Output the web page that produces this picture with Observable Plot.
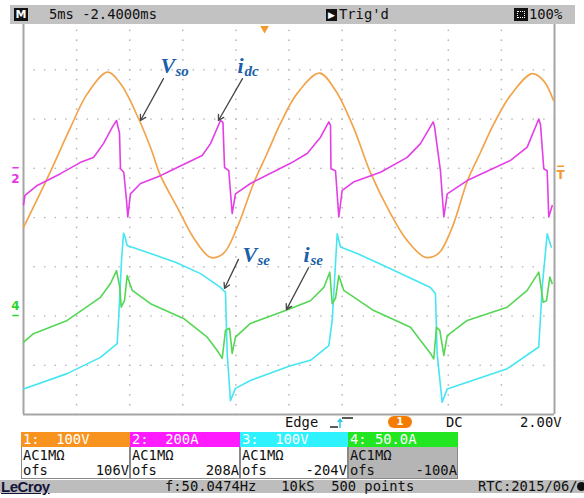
<!DOCTYPE html>
<html><head><meta charset="utf-8">
<script src="https://cdn.jsdelivr.net/npm/d3@7"></script>
<script src="https://cdn.jsdelivr.net/npm/@observablehq/plot@0.6"></script>
<style>
html,body{margin:0;padding:0;background:#fff;}
#wrap{position:relative;width:584px;height:498px;overflow:hidden;background:#fff;}
#chart{position:absolute;left:0;top:0;}
.abs{position:absolute;white-space:pre;}
.mono{font-family:"DejaVu Sans Mono",monospace;font-size:13.8px;color:#111;}
</style></head><body>
<div id="wrap"><div id="chart"></div><div id="ui"></div></div>
<script>
// ---- data: time in ms (5 ms/div), value in screen divisions ----
const timeDomain = [0, 50];
const divDomain = [-4, 4];
const vso = [[0,-0.20],[2.23,0.79],[4.43,1.83],[6.00,2.51],[7.91,2.95],[9.13,2.72],[10.83,2.01],[11.96,1.42],[12.90,0.85],[14.47,0.21],[16.01,-0.41],[17.61,-0.81],[18.83,-0.73],[20.12,-0.20],[21.66,0.69],[22.98,1.32],[24.20,1.91],[25.77,2.52],[27.87,2.93],[29.38,2.58],[31.07,1.83],[32.67,0.91],[34.56,0.08],[36.13,-0.47],[37.85,-0.81],[39.08,-0.73],[40.37,-0.20],[41.81,0.75],[43.03,1.32],[44.26,1.89],[45.86,2.48],[47.90,2.92],[48.96,2.78],[49.90,2.38]];
const idc = [[0,0.26],[0.14,0.45],[1.29,0.65],[3.48,0.89],[5.37,1.12],[6.59,1.22],[7.53,1.50],[8.35,1.83],[8.76,1.97],[9.04,1.71],[9.13,0.99],[9.44,0.92],[9.70,0.35],[9.82,0.01],[10.07,0.48],[11.02,0.69],[12.90,0.85],[13.84,0.95],[16.83,1.26],[17.61,1.50],[18.55,1.97],[18.78,1.93],[18.93,1.02],[19.33,0.95],[19.65,0.08],[19.96,0.48],[21.37,0.69],[25.14,1.10],[26.71,1.30],[27.97,1.63],[28.75,1.94],[28.91,1.87],[28.95,0.99],[29.38,0.95],[29.69,0.01],[30.01,0.55],[31.07,0.72],[33.62,0.92],[36.13,1.22],[37.38,1.50],[38.58,1.94],[38.70,1.85],[39.26,0.95],[39.58,0.01],[39.90,0.48],[41.78,0.75],[45.86,1.16],[47.43,1.43],[48.52,2.00],[48.68,1.89],[48.99,0.99],[49.31,0.95],[49.46,0.01],[49.78,0.24]];
const vse = [[0,-3.48],[4.11,-3.17],[7.25,-2.84],[8.82,-2.56],[8.95,-2.09],[9.23,-0.87],[9.42,-0.32],[9.56,-0.39],[9.76,-0.57],[11.96,-0.73],[14.31,-0.91],[16.67,-1.14],[18.55,-1.42],[19.02,-1.52],[19.18,-2.76],[19.49,-3.72],[19.96,-3.47],[21.37,-3.31],[25.14,-3.01],[27.02,-2.90],[28.75,-2.60],[29.07,-2.09],[29.54,-0.33],[29.85,-0.60],[31.42,-0.73],[34.56,-1.04],[38.32,-1.42],[38.79,-1.55],[38.95,-2.76],[39.42,-3.75],[39.90,-3.48],[41.43,-3.37],[45.55,-3.07],[48.52,-2.63],[48.84,-1.42],[49.31,-0.33],[49.69,-0.60]];
const ise = [[0,-2.53],[0.94,-2.36],[4.11,-2.09],[5.99,-1.81],[7.25,-1.62],[8.19,-1.34],[8.76,-1.08],[9.07,-1.42],[9.20,-1.82],[9.51,-1.69],[9.76,-1.18],[10.24,-1.48],[11.96,-1.75],[15.07,-2.05],[17.30,-2.43],[18.24,-2.70],[18.71,-2.86],[19.02,-2.29],[19.40,-2.25],[19.65,-2.76],[19.96,-2.43],[21.37,-2.15],[24.67,-1.89],[27.02,-1.69],[28.28,-1.42],[28.84,-1.11],[29.07,-1.75],[29.38,-1.64],[29.69,-1.18],[30.16,-1.48],[32.98,-1.89],[36.44,-2.23],[38.32,-2.76],[38.63,-2.87],[38.89,-2.23],[39.20,-2.29],[39.58,-2.80],[39.90,-2.40],[41.78,-2.09],[45.55,-1.82],[47.43,-1.48],[48.52,-1.11],[48.93,-1.72],[49.25,-1.69],[49.56,-1.21],[49.78,-1.34]];
const labels = [{t:12.90,v:2.94,main:"V",sub:"so"},{t:20.15,v:2.94,main:"i",sub:"dc"},{t:20.62,v:-0.91,main:"V",sub:"se"},{t:26.36,v:-0.91,main:"i",sub:"se"}];
const arrows = [{t1:13.18,v1:2.82,t2:11.02,v2:1.97},{t1:20.62,v1:2.82,t2:18.36,v2:1.97},{t1:20.24,v1:-0.85,t2:18.93,v2:-1.44},{t1:26.84,v1:-1.02,t2:24.76,v2:-1.87}];
const markersLeft = [{label:"2",v:0.77,bar:1.01},{label:"4",v:-1.79,bar:-1.99}];
const markersRight = [{label:"T",v:0.85,bar:1.04}];
const trigger = [{t:22.7,v:4}];
const channels = [
  {id:"1",scale:"100V",coupling:"AC1M\u03A9",ofs:"106V"},
  {id:"2",scale:"200A",coupling:"AC1M\u03A9",ofs:"208A"},
  {id:"3",scale:"100V",coupling:"AC1M\u03A9",ofs:"-204V"},
  {id:"4",scale:"50.0A",coupling:"AC1M\u03A9",ofs:"-100A"}];
const topTexts = ["5ms -2.4000ms","Trig'd","100%"];
const trigTexts = ["Edge","1","DC","2.00V"];
const statusTexts = ["LeCroy","f:50.0474Hz   10kS  500 points","RTC:2015/06/"];

// ---- styles ----
const traceColor = {"1":"#f2a44c","2":"#e43ee6","3":"#45e6f2","4":"#55d655"};
const headColor = {"1":"#f7931e","2":"#ff1aff","3":"#2ef2ff","4":"#22e622"};
const markColor = {"2":"#e535e5","4":"#2ed42e","T":"#f39a2c"};

const toRows = a => a.map(([t,v]) => ({t,v}));
const gridPts = [];
for (let t = 5; t < 50; t += 5) for (let j = 0; j <= 40; j++) gridPts.push({t, v: -4 + j*0.2});
for (let v = -3; v <= 3; v++) for (let j = 0; j <= 50; j++) gridPts.push({t: j, v});

const lab = {fontFamily:"Liberation Serif", fontStyle:"italic", fontWeight:"bold", fill:"#1b5fa9", textAnchor:"start", lineAnchor:"bottom"};

const chart = Plot.plot({
  width:584, height:420, marginLeft:23, marginRight:30, marginTop:20, marginBottom:6,
  x:{domain:timeDomain, axis:null}, y:{domain:divDomain, axis:null},
  style:{background:"transparent", overflow:"visible"},
  marks:[
    Plot.dot(gridPts, {x:"t", y:"v", r:0.85, fill:"#bab3bb", stroke:null}),
    Plot.ruleX(timeDomain, {stroke:"#a5a5a5", strokeWidth:2}),
    Plot.ruleY([divDomain[0]], {stroke:"#a5a5a5", strokeWidth:2}),
    Plot.line(toRows(vso), {x:"t", y:"v", stroke:traceColor["1"], strokeWidth:1.7, curve:"catmull-rom"}),
    Plot.line(toRows(idc), {x:"t", y:"v", stroke:traceColor["2"], strokeWidth:1.6}),
    Plot.line(toRows(vse), {x:"t", y:"v", stroke:traceColor["3"], strokeWidth:1.6}),
    Plot.line(toRows(ise), {x:"t", y:"v", stroke:traceColor["4"], strokeWidth:1.6}),
    Plot.arrow(arrows, {x1:"t1", y1:"v1", x2:"t2", y2:"v2", stroke:"#454545", strokeWidth:1.3, headLength:7}),
    Plot.text(labels, {...lab, x:"t", y:"v", text:"main", fontSize:22}),
    Plot.text(labels.filter(d=>d.main==="V"), {...lab, x:"t", y:"v", text:"sub", fontSize:15, dx:15, dy:3}),
    Plot.text(labels.filter(d=>d.main==="i"), {...lab, x:"t", y:"v", text:"sub", fontSize:15, dx:7, dy:3}),
    Plot.text(markersLeft, {x:()=>timeDomain[0], y:"v", text:"label", dx:-8, fontSize:12, fontWeight:"bold", fontFamily:"DejaVu Sans", fill:d=>markColor[d.label]}),
    Plot.link(markersLeft, {x1:()=>-1.05, x2:()=>-0.45, y1:"bar", y2:"bar", stroke:d=>markColor[d.label], strokeWidth:1.5}),
    Plot.text(markersRight, {x:()=>timeDomain[1], y:"v", text:"label", dx:6, fontSize:12, fontWeight:"bold", fontFamily:"DejaVu Sans", fill:d=>markColor[d.label]}),
    Plot.link(markersRight, {x1:()=>50.25, x2:()=>50.9, y1:"bar", y2:"bar", stroke:d=>markColor[d.label], strokeWidth:1.5}),
    Plot.dot(trigger, {x:"t", y:"v", symbol:"triangle", rotate:180, r:3.2, fill:"#f39a2c", stroke:null, dy:8})
  ]
});
document.getElementById("chart").appendChild(chart);

// ---- oscilloscope chrome (HTML) ----
const ui = document.getElementById("ui");
function el(css, text, cls) {
  const d = document.createElement("div");
  d.className = "abs " + (cls || "");
  d.style.cssText += css;
  if (text != null) d.textContent = text;
  ui.appendChild(d);
  return d;
}
// top bar
el("left:10px;top:5px;width:565px;height:19px;background:#c2c2c2;");
el("left:14px;top:8px;width:14px;height:13px;background:#111;color:#fff;font:bold 11px 'DejaVu Sans';line-height:13px;text-align:center;", "M");
el("left:49px;top:5px;line-height:19px;", topTexts[0], "mono");
el("left:326px;top:9px;width:11px;height:12px;background:#111;color:#fff;font:9px 'DejaVu Sans';line-height:12px;text-align:center;", "\u25B6");
el("left:339px;top:5px;line-height:19px;", topTexts[1], "mono");
const ic = el("left:514px;top:8px;width:14px;height:13px;background:#111;");
const inner = document.createElement("div");
inner.style.cssText = "position:absolute;left:3px;top:3px;width:6px;height:5px;border:1px dotted #fff;";
ic.appendChild(inner);
el("left:529px;top:5px;line-height:19px;", topTexts[2], "mono");

// trigger row
el("left:285px;top:415px;line-height:14px;", trigTexts[0], "mono");
const trig = el("left:329px;top:414px;width:30px;height:16px;");
trig.innerHTML = '<svg width="30" height="16"><path d="M1,13H9" stroke="#222" stroke-width="1.5"/><path d="M13,4H24" stroke="#222" stroke-width="1.5"/><path d="M11,14V6" stroke="#2ec8e6" stroke-width="1.5"/><path d="M8,8L11,4L14,8Z" fill="#2ec8e6"/></svg>';
el("left:388px;top:416px;width:24px;height:12px;border-radius:6px;background:#f57c00;color:#fff;font:bold 10px 'DejaVu Sans';line-height:12px;text-align:center;", trigTexts[1]);
el("left:446px;top:415px;line-height:14px;", trigTexts[2], "mono");
el("left:520px;top:415px;line-height:14px;", trigTexts[3], "mono");

// channel boxes
const boxLeft = [21,130,240,348,458];
channels.forEach((c,i) => {
  const L = boxLeft[i], W = boxLeft[i+1]-L;
  el(`left:${L}px;top:432px;width:${W}px;height:15px;background:${headColor[c.id]};`);
  const body = el(`left:${L}px;top:447px;width:${W-2}px;height:31px;background:${i===3?"#b5b5b5":"#fff"};border:1px solid #8a8a8a;border-top:none;`);
  const sp = c.id + ":" + " ".repeat(Math.max(1, 6 - c.scale.length)) + c.scale;
  el(`left:${L+2}px;top:432px;line-height:15px;color:#fff;`, sp, "mono");
  el(`left:${L+2}px;top:448px;line-height:15px;`, c.coupling, "mono");
  el(`left:${L+2}px;top:463px;line-height:15px;`, "ofs", "mono");
  el(`left:${L}px;top:463px;width:${W-1}px;line-height:15px;text-align:right;`, c.ofs, "mono");
});

// status bar
el("left:0px;top:480px;width:584px;height:13px;background:#bdbdbd;");
el("left:1px;top:478px;line-height:16px;font:bold 15px 'Liberation Sans';color:#14143c;text-decoration:underline;letter-spacing:-0.5px;", statusTexts[0]);
el("left:165px;top:479px;line-height:15px;", statusTexts[1], "mono");
el("left:478px;top:479px;line-height:15px;", statusTexts[2], "mono");
el("left:577px;top:482px;width:9px;height:9px;border-radius:5px;background:#111;");
</script>
</body></html>
